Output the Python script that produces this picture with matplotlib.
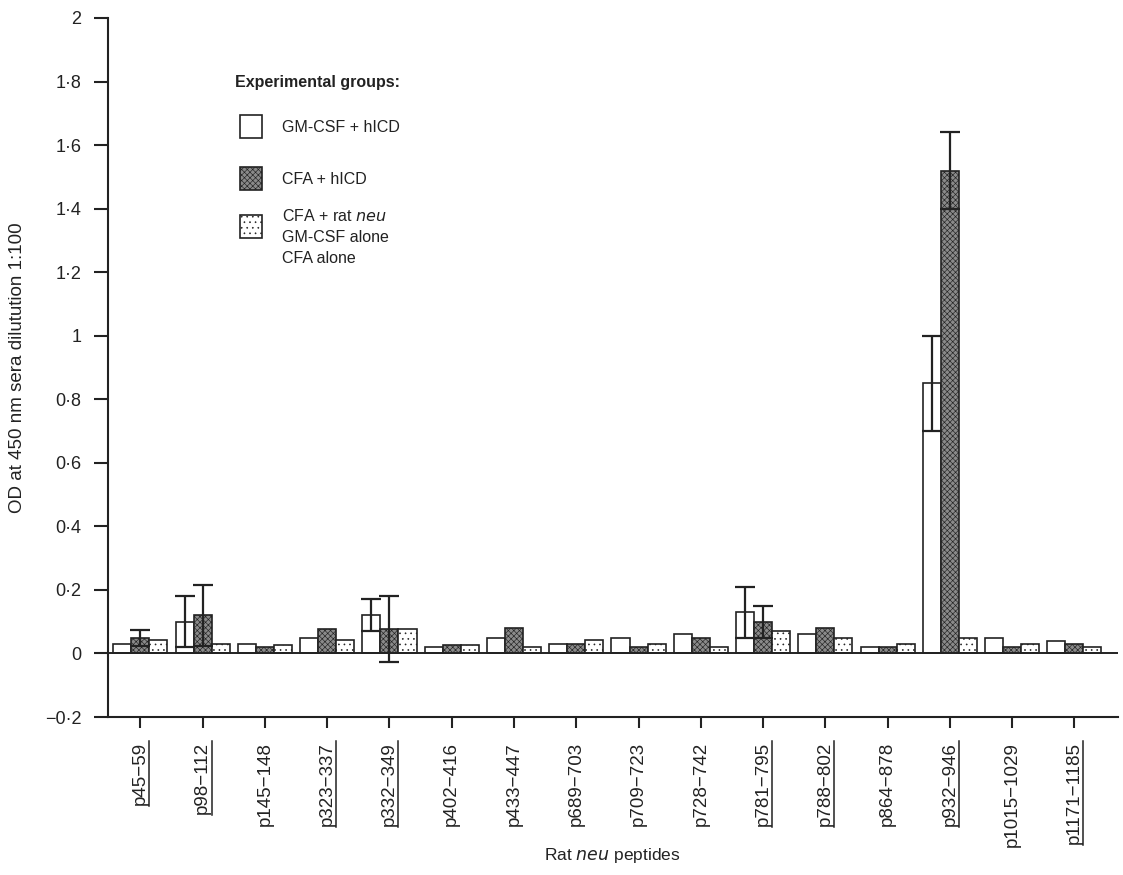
import numpy as np
import matplotlib
matplotlib.use("Agg")
import matplotlib.pyplot as plt
from matplotlib.patches import Rectangle
from matplotlib.lines import Line2D

plt.rcParams['font.family'] = ['Liberation Sans', 'DejaVu Sans']
plt.rcParams['hatch.linewidth'] = 0.45

peptides = ["p45−59", "p98−112", "p145−148", "p323−337", "p332−349", "p402−416",
            "p433−447", "p689−703", "p709−723", "p728−742", "p781−795", "p788−802",
            "p864−878", "p932−946", "p1015−1029", "p1171−1185"]
underlined = ["p45−59", "p98−112", "p323−337", "p332−349", "p781−795",
              "p788−802", "p932−946", "p1171−1185"]

gm_hicd = [0.03, 0.10, 0.03, 0.05, 0.12, 0.02, 0.05, 0.03, 0.05, 0.06, 0.13, 0.06, 0.02, 0.85, 0.05, 0.04]
gm_hicd_err = [0, 0.08, 0, 0, 0.05, 0, 0, 0, 0, 0, 0.08, 0, 0, 0.15, 0, 0]
cfa_hicd = [0.05, 0.12, 0.02, 0.078, 0.076, 0.027, 0.08, 0.03, 0.02, 0.05, 0.10, 0.08, 0.02, 1.52, 0.02, 0.03]
cfa_hicd_err = [0.025, 0.095, 0, 0, 0.104, 0, 0, 0, 0, 0, 0.05, 0, 0, 0.12, 0, 0]
cfa_rat = [0.043, 0.03, 0.027, 0.043, 0.076, 0.026, 0.02, 0.043, 0.03, 0.02, 0.072, 0.05, 0.03, 0.05, 0.03, 0.02]

yticks = [-0.2, 0, 0.2, 0.4, 0.6, 0.8, 1.0, 1.2, 1.4, 1.6, 1.8, 2.0]
ytick_labels = ["−0·2", "0", "0·2", "0·4", "0·6", "0·8", "1", "1·2", "1·4", "1·6", "1·8", "2"]

W, H = 1123, 875
fig = plt.figure(figsize=(W / 100, H / 100), dpi=100)
ax = fig.add_axes([108 / W, 1 - 717 / H, 1010 / W, 699 / H])

ink = '#222222'
lw = 1.2
x = np.arange(len(peptides))
bw = 0.29
gray = '#8a8a8a'
gray_hatch = 'xxxxxx'
dot_hatch = '...'

ax.bar(x - bw, gm_hicd, bw, color='white', edgecolor=ink, linewidth=lw, zorder=2)
ax.bar(x, cfa_hicd, bw, color=gray, edgecolor=ink, linewidth=lw, hatch=gray_hatch, zorder=2)
ax.bar(x + bw, cfa_rat, bw, color='white', edgecolor=ink, linewidth=lw, hatch=dot_hatch, zorder=2)

ge = np.array(gm_hicd_err)
ce = np.array(cfa_hicd_err)
m1 = ge > 0
m2 = ce > 0
ax.errorbar((x - bw)[m1], np.array(gm_hicd)[m1], yerr=ge[m1], fmt='none', ecolor=ink,
            elinewidth=1.6, capsize=7, capthick=1.6, zorder=3)
ax.errorbar(x[m2], np.array(cfa_hicd)[m2], yerr=ce[m2], fmt='none', ecolor=ink,
            elinewidth=1.6, capsize=7, capthick=1.6, zorder=3)

ax.axhline(0, color=ink, linewidth=1.4, zorder=4)

ax.set_xlim(-0.52, 15.7)
ax.set_ylim(-0.2, 2.0)
ax.set_yticks(yticks)
ax.set_yticklabels(ytick_labels)
ax.set_xticks(x)
ax.set_xticklabels(peptides, rotation=90, va='top', ha='center')
for s in ['top', 'right']:
    ax.spines[s].set_visible(False)
for s in ['left', 'bottom']:
    ax.spines[s].set_color(ink)
    ax.spines[s].set_linewidth(1.5)
ax.tick_params(axis='y', direction='out', length=10, width=1.5, color=ink, pad=9,
               labelsize=13, labelcolor=ink)
ax.tick_params(axis='x', direction='out', length=8, width=1.5, color=ink, pad=10,
               labelsize=13.5, labelcolor=ink)

ax.set_ylabel("OD at 450 nm sera dilutution 1:100", fontsize=13.5, color=ink, labelpad=14)
fig.text(612 / W, 1 - 860 / H, "Rat $\\it{neu}$ peptides", fontsize=12.5, color=ink,
         ha='center', va='baseline')

# legend (drawn manually)
def fx(px):
    return px / W

def fy(py):
    return 1 - py / H

fig.text(fx(235), fy(82), "Experimental groups:", fontsize=11.5, fontweight='bold',
         color=ink, ha='left', va='center')
sq = [(115, 'white', None), (167, gray, gray_hatch), (215, 'white', dot_hatch)]
for top, fc, ht in sq:
    r = Rectangle((fx(240), fy(top + 23)), 22 / W, 23 / H, transform=fig.transFigure,
                  facecolor=fc, edgecolor=ink, linewidth=lw, hatch=ht)
    fig.add_artist(r)
fig.text(fx(282), fy(127), "GM-CSF + hICD", fontsize=11.5, color=ink, va='center')
fig.text(fx(282), fy(179), "CFA + hICD", fontsize=11.5, color=ink, va='center')
fig.text(fx(282), fy(216), "CFA + rat $\\it{neu}$", fontsize=11.5, color=ink, va='center')
fig.text(fx(282), fy(237), "GM-CSF alone", fontsize=11.5, color=ink, va='center')
fig.text(fx(282), fy(258), "CFA alone", fontsize=11.5, color=ink, va='center')

# underline selected tick labels (rotated: line on the right side)
fig.canvas.draw()
inv = fig.transFigure.inverted()
for lbl in ax.get_xticklabels():
    if lbl.get_text() in underlined:
        bb = lbl.get_window_extent()
        (x0, y0) = inv.transform((bb.x1 + 0.5, bb.y0 - 1))
        (x1, y1) = inv.transform((bb.x1 + 0.5, bb.y1 + 1))
        fig.add_artist(Line2D([x0, x1], [y0, y1], transform=fig.transFigure,
                              color=ink, linewidth=1.1))

fig.savefig("out.png", dpi=100)
